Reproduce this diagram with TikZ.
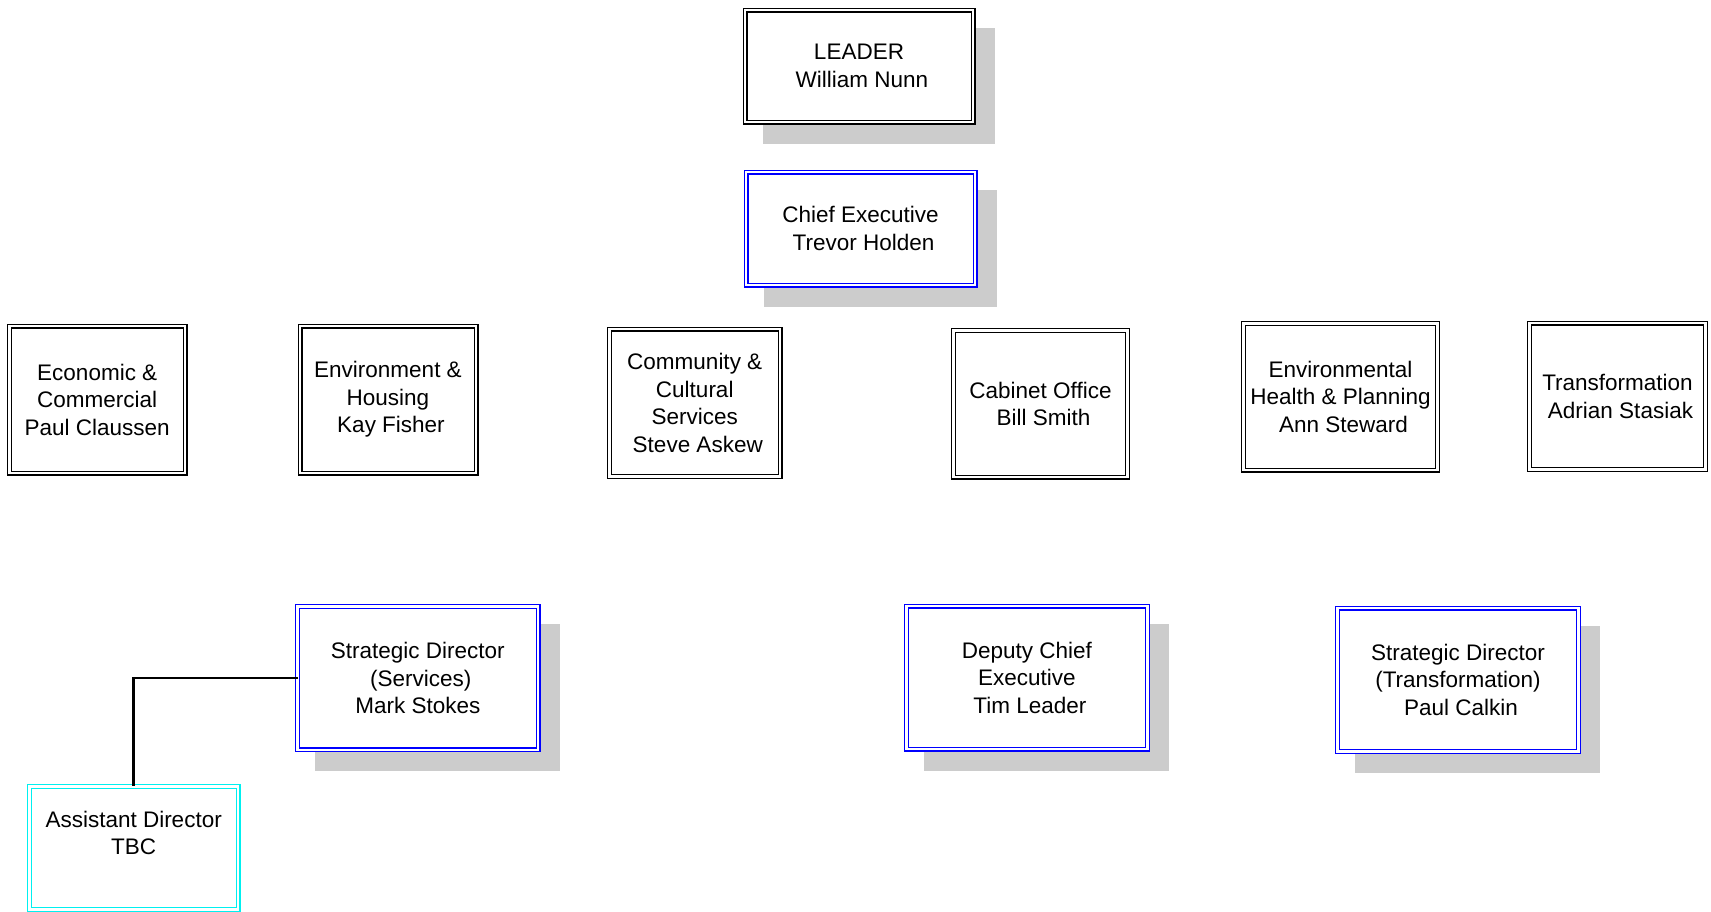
\documentclass[tikz,border=0pt]{standalone}
\usepackage{fontspec}
\setmainfont{Liberation Sans}
\usetikzlibrary{backgrounds}
\newcommand\orgfont{\fontsize{22.5}{27.5}\selectfont}
\definecolor{shadowgray}{RGB}{204,204,204}
\definecolor{boxblue}{RGB}{0,0,255}
\definecolor{boxcyan}{RGB}{0,240,240}
\tikzset{
  obox/.style={draw=#1, double=white, double distance=2.6pt, line width=1.2pt,
    fill=white, inner sep=0pt, outer sep=0pt, align=center, font=\orgfont},
  obox/.default=black,
  conn/.style={draw=black, line width=2.4pt},
  shadowbox/.style={fill=shadowgray}
}
\begin{document}
\begin{tikzpicture}[x=1pt,y=-1pt]
\useasboundingbox (0,0) rectangle (1711,911);
% top
\node[obox, minimum width=228pt, minimum height=112pt] (leader) at (859,66)
  {LEADER\\\hspace*{6pt}William Nunn};
\node[obox=boxblue, minimum width=229pt, minimum height=113pt] (ceo) at (860.5,228.5)
  {Chief Executive\\\hspace*{6pt}Trevor Holden};
% middle row
\node[obox, minimum width=175.5pt, minimum height=147pt] (econ) at (97.25,399.5)
  {Economic \&\\Commercial\\Paul Claussen};
\node[obox, minimum width=176pt, minimum height=147pt] (envh) at (388,399.5)
  {Environment \&\\Housing\\\hspace*{6pt}Kay Fisher};
\node[obox, minimum width=170.5pt, minimum height=147.5pt] (comm) at (694.75,402.75)
  {Community \&\\Cultural\\Services\\\hspace*{6pt}Steve Askew};
\node[obox, minimum width=174pt, minimum height=146.5pt] (cab) at (1040.5,403.75)
  {Cabinet Office\\\hspace*{6pt}Bill Smith};
\node[obox, minimum width=193.5pt, minimum height=146.5pt] (envhp) at (1340.5,396.75)
  {Environmental\\Health \& Planning\\\hspace*{6pt}Ann Steward};
\node[obox, minimum width=176pt, minimum height=146.7pt] (transf) at (1617.5,396.4)
  {Transformation\\\hspace*{6pt}Adrian Stasiak};
% bottom row
\node[obox=boxblue, minimum width=240.3pt, minimum height=143.3pt] (sds) at (417.85,678.15)
  {Strategic Director\\\hspace*{6pt}(Services)\\Mark Stokes};
\node[obox=boxblue, minimum width=240.8pt, minimum height=143pt] (dce) at (1026.9,677.5)
  {Deputy Chief\\Executive\\\hspace*{6pt}Tim Leader};
\node[obox=boxblue, minimum width=240.6pt, minimum height=143.5pt] (sdt) at (1458,679.75)
  {Strategic Director\\(Transformation)\\\hspace*{6pt}Paul Calkin};
\node[obox=boxcyan, minimum width=208.7pt, minimum height=123.2pt] (ad) at (133.65,847.9) {};
\node[font=\orgfont, align=center, inner sep=0pt] (adt) at (133.65,833) {Assistant Director\\TBC};
% connector
\draw[conn] (sds.west) -| (ad.north);
% shadows
\begin{scope}[on background layer]
  \foreach \n in {leader,ceo,sds,dce,sdt}{
    \fill[shadowbox] ([shift={(17.5,17.5)}]\n.north west) rectangle ([shift={(21.5,21.5)}]\n.south east);
  }
\end{scope}
\end{tikzpicture}
\end{document}
